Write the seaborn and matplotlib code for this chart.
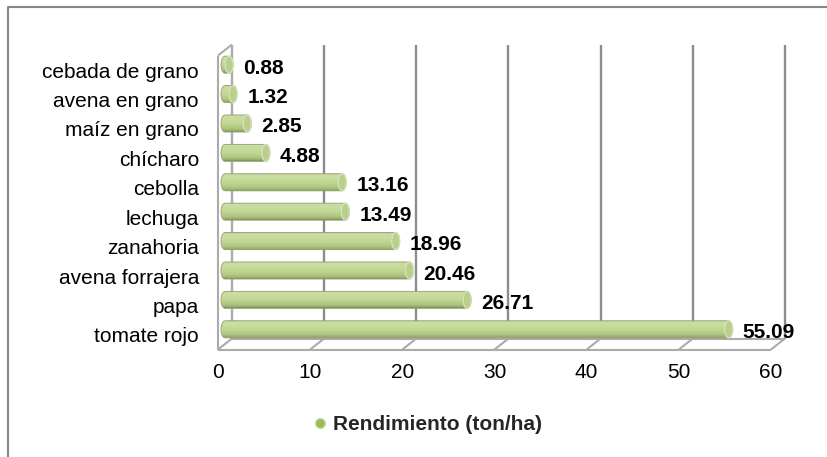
import numpy as np
import pandas as pd
import matplotlib
matplotlib.use("Agg")
import matplotlib.pyplot as plt
import seaborn as sns
from matplotlib.transforms import Affine2D, IdentityTransform, blended_transform_factory
from matplotlib.patches import Ellipse, Polygon
from matplotlib.lines import Line2D
from matplotlib.colors import LinearSegmentedColormap

# Rendimiento por cultivo (ton/ha)
cultivos = ["cebada de grano", "avena en grano", "maíz en grano", "chícharo",
            "cebolla", "lechuga", "zanahoria", "avena forrajera", "papa",
            "tomate rojo"]
rendimiento = [0.88, 1.32, 2.85, 4.88, 13.16, 13.49, 18.96, 20.46, 26.71, 55.09]
ticks_x = [0, 10, 20, 30, 40, 50, 60]
serie = "Rendimiento (ton/ha)"

sns.set_style("white")
plt.rcParams["font.family"] = ["Liberation Sans", "DejaVu Sans"]

DPI = 100
W, H = 828, 457
fig = plt.figure(figsize=(W / DPI, H / DPI), dpi=DPI)
fig.patch.set_facecolor("white")

# value axis runs from x0_px (value 0) to R (value 60); the axes box starts a few
# pixels further left so the rounded base of each cylinder is not cut off
x0_px, T, R, B = 225, 50, 778, 344
MARGIN = 5
L = x0_px - MARGIN
units_per_px = (ticks_x[-1] - ticks_x[0]) / (R - x0_px)
ax = fig.add_axes([L / W, 1 - B / H, (R - L) / W, (B - T) / H])
XLIM = (ticks_x[0] - MARGIN * units_per_px, ticks_x[-1])

df = pd.DataFrame({"cultivo": cultivos, "valor": rendimiento})
sns.barplot(data=df, x="valor", y="cultivo", orient="h", color="#c3d69b",
            width=0.58, saturation=1, ax=ax)
ax.set_xlim(*XLIM)
ax.set_ylim(len(cultivos) - 0.5, -0.5)
for s in ax.spines.values():
    s.set_visible(False)
ax.set_xticks([])
ax.set_yticks([])
ax.set_xlabel("")
ax.set_ylabel("")
ax.patch.set_alpha(0)

# pseudo-3D depth: back plane is shifted up/right, front plane down/left
DX, DY = 7, 5.5
bx = blended_transform_factory(ax.transData, ax.transAxes)


def px(x, ya, depth):
    X, Y = bx.transform((x, ya))
    return X + depth * DX, Y + depth * DY


def seg(p, q, color, lw, z):
    ax.add_line(Line2D([p[0], q[0]], [p[1], q[1]], transform=IdentityTransform(),
                       color=color, lw=lw, clip_on=False, zorder=z,
                       solid_capstyle="butt"))


GRID = "#8c8c8c"
EDGE = "#ababab"

# back wall gridlines
for v in ticks_x:
    seg(px(v, 0, 1), px(v, 1, 1), EDGE if v == ticks_x[0] else GRID, 1.7, 1)

# left wall
seg(px(0, 0, -1), px(0, 1, -1), EDGE, 1.5, 1)
seg(px(0, 1, -1), px(0, 1, 1), EDGE, 1.5, 1)

# floor
seg(px(ticks_x[0], 0, -1), px(ticks_x[-1], 0, -1), EDGE, 1.5, 1)
seg(px(ticks_x[0], 0, 1), px(ticks_x[-1], 0, 1), EDGE, 1.5, 1)
for v in ticks_x:
    seg(px(v, 0, -1), px(v, 0, 1), EDGE, 1.5, 1)

# cylinder shading for each bar
cyl = LinearSegmentedColormap.from_list("cyl", [
    (0.00, "#8f9c78"), (0.07, "#cbdca6"), (0.25, "#cadd9f"),
    (0.55, "#c0d693"), (0.80, "#afc681"), (0.93, "#9bb06c"), (1.00, "#7a8b5a")])
grad = np.linspace(0, 1, 64).reshape(-1, 1)
cap_w = 8 * units_per_px

for p in list(ax.patches):
    x0, y0 = p.get_x(), p.get_y()
    w, h = p.get_width(), p.get_height()
    x1, yc = x0 + w, y0 + h / 2
    a = cap_w / 2
    b = h / 2
    # rounded base centred on zero, rounded end finishing at the value
    xr = max(x1 - a, x0)
    t_r = np.linspace(-np.pi / 2, np.pi / 2, 40)
    t_l = np.linspace(np.pi / 2, 3 * np.pi / 2, 40)
    pts = np.vstack([
        np.column_stack([xr + a * np.cos(t_r), yc + b * np.sin(t_r)]),
        np.column_stack([x0 + a * np.cos(t_l), yc + b * np.sin(t_l)]),
    ])
    outline = Polygon(pts, closed=True, facecolor="none", edgecolor="#8fa36e",
                      lw=0.6, zorder=4)
    ax.add_patch(outline)
    im = ax.imshow(grad, extent=(x0 - a, xr + a, y0 + h, y0), aspect="auto",
                   cmap=cyl, origin="upper", interpolation="bilinear", zorder=3)
    im.set_clip_path(outline)
    ax.add_patch(Ellipse((xr, yc), 2 * a, h, facecolor="#b9cf8b",
                         edgecolor="#d6e3bd", lw=0.9, zorder=5))
    p.set_visible(False)

ax.set_xlim(*XLIM)
ax.set_ylim(len(cultivos) - 0.5, -0.5)

# value labels
for i, v in enumerate(rendimiento):
    ax.annotate(f"{v:.2f}", xy=(v, i), xytext=(10, -1.5), textcoords="offset pixels",
                ha="left", va="center_baseline", fontsize=15, fontweight="bold",
                color="black", zorder=6, annotation_clip=False)

# category labels (front plane)
for i, c in enumerate(cultivos):
    ax.text(0, i, c, transform=ax.transData + Affine2D().translate(-26, -DY),
            ha="right", va="center_baseline", fontsize=15, color="black")

# x tick labels (front plane)
for v in ticks_x:
    ax.text(v, 0, str(v), transform=bx + Affine2D().translate(-DX, -26),
            ha="center", va="center_baseline", fontsize=15, color="black")

# legend
handle = Line2D([], [], marker="o", linestyle="none", markersize=7,
                markerfacecolor="#9bbb59", markeredgecolor="#c3d69b")
fig.legend([handle], [serie], loc="center", bbox_to_anchor=(427 / W, 1 - 425 / H),
           frameon=False, prop={"weight": "bold", "size": 15},
           handlelength=0.8, handletextpad=0.2, borderpad=0)

# chart area border
fig.add_artist(Line2D([8 / W, 8 / W, 1.01], [-0.01, 1 - 7 / H, 1 - 7 / H],
                      transform=fig.transFigure, color="#868686", lw=1.5))

fig.savefig("out.png", dpi=DPI)
